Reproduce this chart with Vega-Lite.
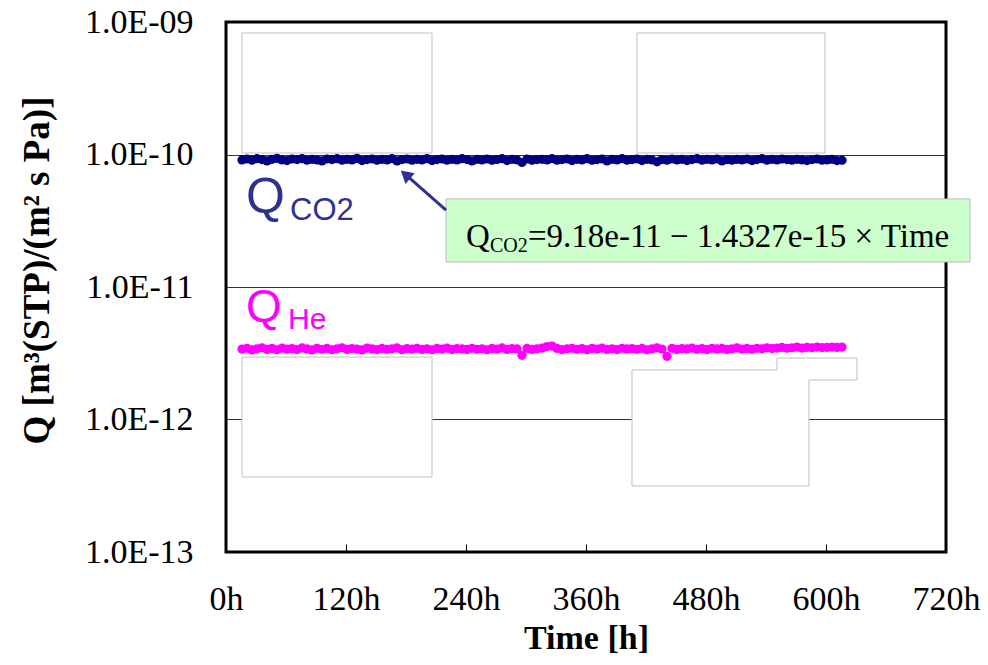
{
  "$schema": "https://vega.github.io/schema/vega-lite/v6.json",
  "width": 720,
  "height": 530,
  "autosize": "none",
  "padding": {"left": 226, "top": 22, "right": 42, "bottom": 113},
  "background": "white",
  "config": {"view": {"stroke": null}},
  "datasets": {
    "co2": [
      {"t":16,"q":9.10e-11},{"t":21,"q":9.25e-11},{"t":26,"q":9.05e-11},{"t":31,"q":9.30e-11},{"t":36,"q":9.15e-11},{"t":41,"q":8.95e-11},{"t":46,"q":9.20e-11},{"t":51,"q":9.35e-11},{"t":56,"q":9.10e-11},{"t":61,"q":9.00e-11},
      {"t":66,"q":9.25e-11},{"t":71,"q":9.15e-11},{"t":76,"q":9.30e-11},{"t":81,"q":9.05e-11},{"t":86,"q":9.20e-11},{"t":91,"q":9.10e-11},{"t":96,"q":8.95e-11},{"t":101,"q":9.25e-11},{"t":106,"q":9.15e-11},{"t":111,"q":9.30e-11},
      {"t":116,"q":9.05e-11},{"t":121,"q":9.20e-11},{"t":126,"q":9.10e-11},{"t":131,"q":9.35e-11},{"t":136,"q":9.00e-11},{"t":141,"q":9.15e-11},{"t":146,"q":9.25e-11},{"t":151,"q":9.05e-11},{"t":156,"q":9.20e-11},{"t":161,"q":9.10e-11},
      {"t":166,"q":9.30e-11},{"t":171,"q":8.95e-11},{"t":176,"q":9.15e-11},{"t":181,"q":9.25e-11},{"t":186,"q":9.05e-11},{"t":191,"q":9.20e-11},{"t":196,"q":9.10e-11},{"t":201,"q":9.30e-11},{"t":206,"q":9.00e-11},{"t":211,"q":9.15e-11},
      {"t":216,"q":9.25e-11},{"t":221,"q":9.05e-11},{"t":226,"q":9.20e-11},{"t":231,"q":9.10e-11},{"t":236,"q":9.30e-11},{"t":241,"q":9.15e-11},{"t":246,"q":8.95e-11},{"t":251,"q":9.20e-11},{"t":256,"q":9.10e-11},{"t":261,"q":9.25e-11},
      {"t":266,"q":9.05e-11},{"t":271,"q":9.15e-11},{"t":276,"q":9.30e-11},{"t":281,"q":9.00e-11},{"t":286,"q":9.20e-11},{"t":291,"q":9.10e-11},{"t":296,"q":8.70e-11},{"t":301,"q":9.25e-11},{"t":306,"q":9.05e-11},{"t":311,"q":9.15e-11},
      {"t":316,"q":9.20e-11},{"t":321,"q":9.10e-11},{"t":326,"q":9.30e-11},{"t":331,"q":9.05e-11},{"t":336,"q":9.15e-11},{"t":341,"q":9.25e-11},{"t":346,"q":9.00e-11},{"t":351,"q":9.20e-11},{"t":356,"q":9.10e-11},{"t":361,"q":9.30e-11},
      {"t":366,"q":9.05e-11},{"t":371,"q":9.15e-11},{"t":376,"q":9.25e-11},{"t":381,"q":8.95e-11},{"t":386,"q":9.20e-11},{"t":391,"q":9.10e-11},{"t":396,"q":9.30e-11},{"t":401,"q":9.05e-11},{"t":406,"q":9.15e-11},{"t":411,"q":9.25e-11},
      {"t":416,"q":9.00e-11},{"t":421,"q":9.20e-11},{"t":426,"q":9.10e-11},{"t":431,"q":8.80e-11},{"t":436,"q":9.15e-11},{"t":441,"q":9.05e-11},{"t":446,"q":9.25e-11},{"t":451,"q":9.10e-11},{"t":456,"q":9.20e-11},{"t":461,"q":9.00e-11},
      {"t":466,"q":9.15e-11},{"t":471,"q":9.30e-11},{"t":476,"q":9.05e-11},{"t":481,"q":9.20e-11},{"t":486,"q":9.10e-11},{"t":491,"q":9.25e-11},{"t":496,"q":8.95e-11},{"t":501,"q":9.15e-11},{"t":506,"q":9.05e-11},{"t":511,"q":9.20e-11},
      {"t":516,"q":9.10e-11},{"t":521,"q":9.25e-11},{"t":526,"q":9.00e-11},{"t":531,"q":9.15e-11},{"t":536,"q":9.30e-11},{"t":541,"q":9.05e-11},{"t":546,"q":9.20e-11},{"t":551,"q":9.10e-11},{"t":556,"q":9.25e-11},{"t":561,"q":9.15e-11},
      {"t":566,"q":9.05e-11},{"t":571,"q":9.20e-11},{"t":576,"q":9.10e-11},{"t":581,"q":9.00e-11},{"t":586,"q":9.15e-11},{"t":591,"q":9.25e-11},{"t":596,"q":9.05e-11},{"t":601,"q":9.10e-11},{"t":606,"q":9.20e-11},{"t":611,"q":9.00e-11},
      {"t":616,"q":9.05e-11}
    ],
    "he": [
      {"t":16,"q":3.40e-12},{"t":21,"q":3.45e-12},{"t":26,"q":3.35e-12},{"t":31,"q":3.42e-12},{"t":36,"q":3.48e-12},{"t":41,"q":3.38e-12},{"t":46,"q":3.44e-12},{"t":51,"q":3.36e-12},{"t":56,"q":3.46e-12},{"t":61,"q":3.40e-12},
      {"t":66,"q":3.43e-12},{"t":71,"q":3.37e-12},{"t":76,"q":3.47e-12},{"t":81,"q":3.41e-12},{"t":86,"q":3.35e-12},{"t":91,"q":3.45e-12},{"t":96,"q":3.39e-12},{"t":101,"q":3.44e-12},{"t":106,"q":3.36e-12},{"t":111,"q":3.42e-12},
      {"t":116,"q":3.48e-12},{"t":121,"q":3.38e-12},{"t":126,"q":3.43e-12},{"t":131,"q":3.40e-12},{"t":136,"q":3.35e-12},{"t":141,"q":3.46e-12},{"t":146,"q":3.41e-12},{"t":151,"q":3.37e-12},{"t":156,"q":3.44e-12},{"t":161,"q":3.39e-12},
      {"t":166,"q":3.42e-12},{"t":171,"q":3.47e-12},{"t":176,"q":3.36e-12},{"t":181,"q":3.43e-12},{"t":186,"q":3.40e-12},{"t":191,"q":3.45e-12},{"t":196,"q":3.38e-12},{"t":201,"q":3.42e-12},{"t":206,"q":3.36e-12},{"t":211,"q":3.44e-12},
      {"t":216,"q":3.40e-12},{"t":221,"q":3.46e-12},{"t":226,"q":3.37e-12},{"t":231,"q":3.43e-12},{"t":236,"q":3.41e-12},{"t":241,"q":3.38e-12},{"t":246,"q":3.45e-12},{"t":251,"q":3.39e-12},{"t":256,"q":3.42e-12},{"t":261,"q":3.36e-12},
      {"t":266,"q":3.44e-12},{"t":271,"q":3.40e-12},{"t":276,"q":3.47e-12},{"t":281,"q":3.38e-12},{"t":286,"q":3.43e-12},{"t":291,"q":3.41e-12},{"t":296,"q":3.05e-12},{"t":301,"q":3.44e-12},{"t":306,"q":3.38e-12},{"t":311,"q":3.42e-12},
      {"t":316,"q":3.46e-12},{"t":321,"q":3.55e-12},{"t":326,"q":3.58e-12},{"t":331,"q":3.44e-12},{"t":336,"q":3.37e-12},{"t":341,"q":3.42e-12},{"t":346,"q":3.45e-12},{"t":351,"q":3.39e-12},{"t":356,"q":3.43e-12},{"t":361,"q":3.36e-12},
      {"t":366,"q":3.44e-12},{"t":371,"q":3.40e-12},{"t":376,"q":3.46e-12},{"t":381,"q":3.38e-12},{"t":386,"q":3.42e-12},{"t":391,"q":3.37e-12},{"t":396,"q":3.45e-12},{"t":401,"q":3.41e-12},{"t":406,"q":3.43e-12},{"t":411,"q":3.39e-12},
      {"t":416,"q":3.44e-12},{"t":421,"q":3.36e-12},{"t":426,"q":3.42e-12},{"t":431,"q":3.47e-12},{"t":436,"q":3.40e-12},{"t":441,"q":3.00e-12},{"t":446,"q":3.45e-12},{"t":451,"q":3.38e-12},{"t":456,"q":3.43e-12},{"t":461,"q":3.41e-12},
      {"t":466,"q":3.46e-12},{"t":471,"q":3.39e-12},{"t":476,"q":3.43e-12},{"t":481,"q":3.37e-12},{"t":486,"q":3.45e-12},{"t":491,"q":3.41e-12},{"t":496,"q":3.44e-12},{"t":501,"q":3.38e-12},{"t":506,"q":3.42e-12},{"t":511,"q":3.47e-12},
      {"t":516,"q":3.40e-12},{"t":521,"q":3.44e-12},{"t":526,"q":3.39e-12},{"t":531,"q":3.45e-12},{"t":536,"q":3.42e-12},{"t":541,"q":3.48e-12},{"t":546,"q":3.43e-12},{"t":551,"q":3.46e-12},{"t":556,"q":3.50e-12},{"t":561,"q":3.45e-12},
      {"t":566,"q":3.48e-12},{"t":571,"q":3.52e-12},{"t":576,"q":3.46e-12},{"t":581,"q":3.50e-12},{"t":586,"q":3.48e-12},{"t":591,"q":3.52e-12},{"t":596,"q":3.49e-12},{"t":601,"q":3.50e-12},{"t":606,"q":3.52e-12},{"t":611,"q":3.50e-12},
      {"t":616,"q":3.52e-12}
    ]
  },
  "encoding": {
    "x": {
      "field": "t", "type": "quantitative",
      "scale": {"domain": [0, 720], "nice": false, "zero": false},
      "axis": {
        "values": [0, 120, 240, 360, 480, 600, 720],
        "labelExpr": "datum.value + 'h'",
        "title": "Time  [h]",
        "grid": false, "domain": false,
        "ticks": true, "tickSize": -8, "tickColor": "black", "tickWidth": 1,
        "labelFont": "Liberation Serif", "labelFontSize": 34, "labelColor": "black",
        "labelPadding": 38, "labelFlush": false,
        "titleFont": "Liberation Serif", "titleFontSize": 34, "titleFontWeight": "bold", "titleColor": "black",
        "titlePadding": 5
      }
    },
    "y": {
      "field": "q", "type": "quantitative",
      "scale": {"type": "log", "domain": [1e-13, 1e-9], "nice": false},
      "axis": {
        "values": [1e-13, 1e-12, 1e-11, 1e-10, 1e-9],
        "labelExpr": "'1.0E-' + (round(-log(datum.value)/LN10) < 10 ? '0' : '') + round(-log(datum.value)/LN10)",
        "title": "Q [m³(STP)/(m² s Pa)]",
        "grid": true, "gridColor": "#333333", "gridWidth": 1,
        "domain": false, "ticks": false,
        "labelFont": "Liberation Serif", "labelFontSize": 34, "labelColor": "black",
        "labelPadding": 33, "labelFlush": false,
        "titleFont": "Liberation Serif", "titleFontSize": 37, "titleFontWeight": "bold", "titleColor": "black",
        "titlePadding": 28, "titleY": 248
      }
    }
  },
  "layer": [
    {
      "data": {"values": [
        {"t": 16, "t2": 206, "q": 1.026e-10, "q2": 8.26e-10},
        {"t": 411, "t2": 599, "q": 1.026e-10, "q2": 8.26e-10},
        {"t": 16, "t2": 206, "q": 3.68e-13, "q2": 2.96e-12}
      ]},
      "mark": {"type": "rect", "fill": "white", "stroke": "#BFBFBF", "strokeWidth": 1},
      "encoding": {"x2": {"field": "t2"}, "y2": {"field": "q2"}}
    },
    {
      "data": {"values": [
        {"t": 406, "t2": 583, "q": 3.15e-13, "q2": 2.366e-12},
        {"t": 551, "t2": 631, "q": 1.987e-12, "q2": 2.91e-12}
      ]},
      "mark": {"type": "rect", "fill": "white", "strokeWidth": 0},
      "encoding": {"x2": {"field": "t2"}, "y2": {"field": "q2"}}
    },
    {
      "data": {"values": [
        {"k": 0, "t": 406, "q": 2.366e-12},
        {"k": 1, "t": 551, "q": 2.366e-12},
        {"k": 2, "t": 551, "q": 2.91e-12},
        {"k": 3, "t": 631, "q": 2.91e-12},
        {"k": 4, "t": 631, "q": 1.987e-12},
        {"k": 5, "t": 583, "q": 1.987e-12},
        {"k": 6, "t": 583, "q": 3.15e-13},
        {"k": 7, "t": 406, "q": 3.15e-13},
        {"k": 8, "t": 406, "q": 2.366e-12}
      ]},
      "mark": {"type": "line", "color": "#BFBFBF", "strokeWidth": 1},
      "encoding": {"order": {"field": "k", "type": "quantitative"}}
    },
    {
      "data": {"values": [{"t": 0, "t2": 720, "q": 1e-13, "q2": 1e-9}]},
      "mark": {"type": "rect", "fill": null, "fillOpacity": 0, "stroke": "black", "strokeWidth": 3, "clip": false},
      "encoding": {"x2": {"field": "t2"}, "y2": {"field": "q2"}}
    },
    {
      "data": {"values": [{"t": 220, "t2": 744, "q": 1.545e-11, "q2": 4.62e-11}]},
      "mark": {"type": "rect", "fill": "#CCFFCC", "stroke": "#BBBBBB", "strokeWidth": 1, "clip": false},
      "encoding": {"x2": {"field": "t2"}, "y2": {"field": "q2"}}
    },
    {
      "data": {"values": [{"t": 240, "q": 2.0e-11, "s": "Q"}]},
      "mark": {"type": "text", "align": "left", "baseline": "alphabetic", "font": "Liberation Serif", "fontSize": 33, "color": "black"},
      "encoding": {"text": {"field": "s"}}
    },
    {
      "data": {"values": [{"t": 264, "q": 1.836e-11, "s": "CO2"}]},
      "mark": {"type": "text", "align": "left", "baseline": "alphabetic", "font": "Liberation Serif", "fontSize": 20, "color": "black"},
      "encoding": {"text": {"field": "s"}}
    },
    {
      "data": {"values": [{"t": 302, "q": 2.0e-11, "s": "=9.18e-11 − 1.4327e-15 × Time"}]},
      "mark": {"type": "text", "align": "left", "baseline": "alphabetic", "font": "Liberation Serif", "fontSize": 33, "color": "black"},
      "encoding": {"text": {"field": "s"}}
    },
    {
      "data": {"values": [{"k": 0, "t": 220, "q": 3.81e-11}, {"k": 1, "t": 182, "q": 6.8e-11}]},
      "mark": {"type": "line", "color": "#2E3192", "strokeWidth": 3},
      "encoding": {"order": {"field": "k", "type": "quantitative"}}
    },
    {
      "data": {"values": [{"t": 181, "q": 6.89e-11}]},
      "mark": {"type": "point", "shape": "triangle", "filled": true, "color": "#2E3192", "opacity": 1, "size": 200, "angle": 311}
    },
    {
      "data": {"name": "co2"},
      "mark": {"type": "circle", "color": "#000080", "opacity": 1, "size": 85}
    },
    {
      "data": {"name": "he"},
      "mark": {"type": "circle", "color": "#FF00FF", "opacity": 1, "size": 85}
    },
    {
      "data": {"values": [{"t": 20, "q": 3.62e-11, "s": "Q"}]},
      "mark": {"type": "text", "align": "left", "baseline": "alphabetic", "font": "Liberation Sans", "fontSize": 50, "color": "#2E3192"},
      "encoding": {"text": {"field": "s"}}
    },
    {
      "data": {"values": [{"t": 64, "q": 3.21e-11, "s": "CO2"}]},
      "mark": {"type": "text", "align": "left", "baseline": "alphabetic", "font": "Liberation Sans", "fontSize": 31, "color": "#2E3192"},
      "encoding": {"text": {"field": "s"}}
    },
    {
      "data": {"values": [{"t": 20, "q": 5.45e-12, "s": "Q"}]},
      "mark": {"type": "text", "align": "left", "baseline": "alphabetic", "font": "Liberation Sans", "fontSize": 46, "color": "#FF00FF"},
      "encoding": {"text": {"field": "s"}}
    },
    {
      "data": {"values": [{"t": 62, "q": 4.82e-12, "s": "He"}]},
      "mark": {"type": "text", "align": "left", "baseline": "alphabetic", "font": "Liberation Sans", "fontSize": 30, "color": "#FF00FF"},
      "encoding": {"text": {"field": "s"}}
    }
  ]
}
